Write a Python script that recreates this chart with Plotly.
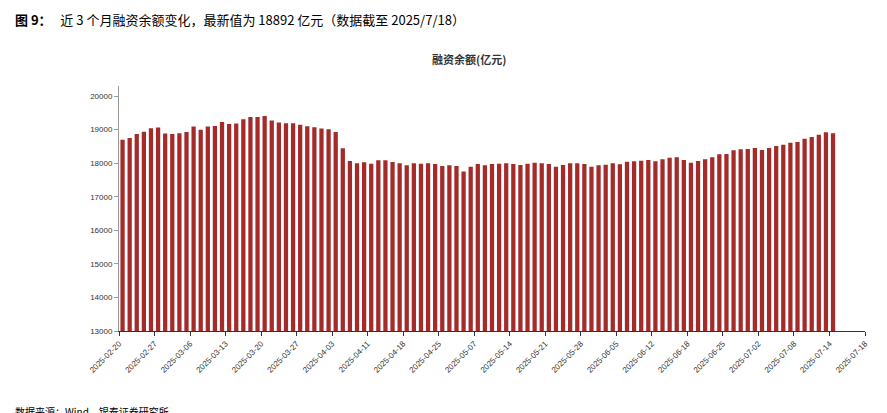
import plotly.graph_objects as go

# margin balance, 100m yuan, one bar per trading day from 2025-02-20
balance = [18701, 18751, 18871, 18940, 19040, 19060, 18881, 18871, 18891, 18930,
           19090, 19000, 19090, 19110, 19229, 19169, 19179, 19308, 19378, 19378,
           19408, 19269, 19209, 19189, 19189, 19149, 19100, 19070, 19030, 19010,
           18930, 18443, 18065, 17995, 18025, 17985, 18085, 18085, 18035, 17995,
           17935, 17995, 17985, 17995, 17975, 17915, 17935, 17915, 17756, 17896,
           17975, 17935, 17975, 17985, 17995, 17975, 17945, 17985, 18015, 17995,
           17975, 17896, 17945, 17995, 17995, 17975, 17896, 17935, 17955, 17995,
           17965, 18045, 18055, 18075, 18095, 18055, 18114, 18164, 18174, 18095,
           18015, 18065, 18114, 18174, 18264, 18274, 18383, 18413, 18423, 18453,
           18393, 18453, 18512, 18552, 18612, 18632, 18731, 18781, 18851, 18920,
           18892]

tick_labels = ['2025-02-20', '2025-02-27', '2025-03-06', '2025-03-13', '2025-03-20',
               '2025-03-27', '2025-04-03', '2025-04-11', '2025-04-18', '2025-04-25',
               '2025-05-07', '2025-05-14', '2025-05-21', '2025-05-28', '2025-06-05',
               '2025-06-12', '2025-06-18', '2025-06-25', '2025-07-02', '2025-07-08',
               '2025-07-14', '2025-07-18']

x = list(range(len(balance)))
tick_pos = [-0.5 + 5 * i for i in range(len(tick_labels))]

fig = go.Figure(go.Bar(x=x, y=balance, marker=dict(color='#a52a2a', line=dict(width=0)),
                       width=0.6))

fig.update_layout(
    width=887, height=413,
    margin=dict(l=111, r=30, t=78, b=90),
    plot_bgcolor='white', paper_bgcolor='white',
    showlegend=False,
    font=dict(family='Liberation Sans, Arial', size=9, color='#333'),
    title=dict(text='<b>融资余额(亿元)</b>', x=0.52, xanchor='center', y=0.874, yanchor='middle',
               font=dict(family='Noto Sans CJK SC', size=11, color='#333')),
)
fig.update_xaxes(range=[-0.5, 104.5], tickmode='array', tickvals=tick_pos, ticktext=tick_labels,
                 tickangle=-45, ticks='outside', ticklen=4, tickcolor='#333',
                 showline=True, linecolor='#333', showgrid=False, tickfont=dict(size=8))
fig.update_yaxes(range=[13000, 20300], tickvals=list(range(13000, 20001, 1000)), tickformat='d',
                 ticks='outside', ticklen=4, tickcolor='#999', showline=True, linecolor='#999',
                 showgrid=False, zeroline=False, tickfont=dict(size=8))

fig.add_annotation(text='<b>图 9：</b>   近 3 个月融资余额变化，最新值为 18892 亿元（数据截至 2025/7/18）',
                   xref='paper', yref='paper', x=-106/746, y=1 + 66/245, xanchor='left', yanchor='middle',
                   showarrow=False, font=dict(family='Noto Sans CJK SC', size=13, color='#000'))
fig.add_annotation(text='数据来源：Wind，银泰证券研究所', xref='paper', yref='paper',
                   x=-106/746, y=-80/245, xanchor='left', yanchor='middle', showarrow=False,
                   font=dict(family='Noto Sans CJK SC', size=10, color='#000'))

fig.write_html("out.html")
